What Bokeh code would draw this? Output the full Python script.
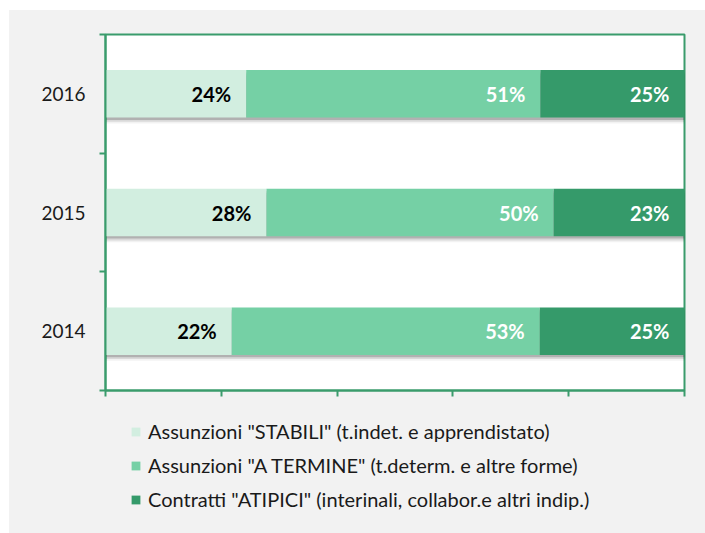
from bokeh.plotting import figure
from bokeh.layouts import column
from bokeh.models import (ColumnDataSource, Range1d, FixedTicker, Legend, LegendItem)
from bokeh.core.properties import value
from bokeh.embed import file_html
from bokeh.resources import INLINE

years = ["2014", "2015", "2016"]
stabili = [21.8, 27.8, 24.3]
a_termine = [53.2, 49.6, 50.8]
atipici = [25.0, 22.6, 24.9]
series_names = [
    'Assunzioni "STABILI" (t.indet. e apprendistato)',
    'Assunzioni "A TERMINE" (t.determ. e altre forme)',
    'Contratti "ATIPICI" (interinali, collabor.e altri indip.)',
]
x_ticks = [0, 20, 40, 60, 80, 100]

colors = ["#d2eee0", "#75d0a5", "#359a6a"]
label_colors = ["#000000", "#ffffff", "#ffffff"]
axis_green = "#3a9c6c"
bg = "#f2f2f2"
FONT = "Lato"

pos = [i + 0.5 for i in range(len(years))]
series = [stabili, a_termine, atipici]
ends1 = [a for a in stabili]
ends2 = [a + b for a, b in zip(stabili, a_termine)]
ends3 = [a + b + c for a, b, c in zip(stabili, a_termine, atipici)]
ends = [ends1, ends2, ends3]

src = ColumnDataSource(dict(y=pos, s=stabili, t=a_termine, a=atipici,
                            tot=ends3))

p = figure(width=696, height=400, output_backend="svg",
           toolbar_location=None,
           x_range=Range1d(0, 100), y_range=Range1d(0, len(years)),
           min_border_left=96, min_border_top=24, min_border_right=21,
           min_border_bottom=20)
p.background_fill_color = "white"
p.border_fill_color = bg
p.outline_line_color = axis_green
p.outline_line_width = 2
p.xgrid.grid_line_color = None
p.ygrid.grid_line_color = None
p.styles = {"background-color": bg}

# shadows
for k, (dy, al) in enumerate([(0.020, 0.18), (0.035, 0.10), (0.050, 0.05)]):
    p.hbar(y=[v - dy for v in pos], left=0, right=[t + 0.4 for t in ends3],
           height=0.4, fill_color="black", fill_alpha=al, line_color=None)

rs = p.hbar_stack(["s", "t", "a"], y="y", height=0.4, color=colors,
                  line_color=None, source=src)

for k in range(3):
    lbl = ColumnDataSource(dict(x=ends[k], y=pos,
                                txt=["%d%%" % round(v) for v in series[k]]))
    p.text(x="x", y="y", text="txt", source=lbl, x_offset=-15,
           text_align="right", text_baseline="middle",
           text_font=value(FONT), text_font_style="bold",
           text_font_size="20px", text_color=label_colors[k])

# y axis: labels at centres, minor ticks at boundaries
ya = p.yaxis[0]
ya.ticker = FixedTicker(ticks=pos, minor_ticks=list(range(len(years) + 1)))
ya.major_label_overrides = {v: yr for v, yr in zip(pos, years)}
ya.major_tick_line_color = None
ya.major_tick_out = 0
ya.major_tick_in = 0
ya.minor_tick_out = 6
ya.minor_tick_in = 0
ya.minor_tick_line_color = axis_green
ya.minor_tick_line_width = 2
ya.axis_line_color = axis_green
ya.axis_line_width = 2
ya.major_label_standoff = 14
ya.major_label_text_font = FONT
ya.major_label_text_font_size = "19px"
ya.major_label_text_color = "#1a1a1a"

# x axis: ticks only (as minor ticks, so no labels)
xa = p.xaxis[0]
xa.ticker = FixedTicker(ticks=[], minor_ticks=x_ticks)
xa.minor_tick_out = 6
xa.minor_tick_in = 0
xa.minor_tick_line_color = axis_green
xa.minor_tick_line_width = 2
xa.major_tick_line_color = None
xa.axis_line_color = axis_green
xa.axis_line_width = 2

# legend panel below the chart (same series as legend proxies, kept far out of view)
p2 = figure(width=696, height=123, output_backend="svg", toolbar_location=None,
            x_axis_type=None, y_axis_type=None,
            x_range=Range1d(1000, 1100), y_range=Range1d(1000, 1001),
            min_border_left=96, min_border_right=21, min_border_top=0,
            min_border_bottom=0)
p2.background_fill_color = bg
p2.border_fill_color = bg
p2.outline_line_color = None
p2.xgrid.grid_line_color = None
p2.ygrid.grid_line_color = None
p2.styles = {"background-color": bg}
leg_rs = p2.hbar_stack(["s", "t", "a"], y="y", height=0.4, color=colors,
                       line_color=None, source=src)

legend = Legend(items=[LegendItem(label=n, renderers=[r]) for n, r in zip(series_names, leg_rs)],
                orientation="vertical", location=(25, 22),
                glyph_width=11, glyph_height=11, label_text_font=FONT,
                label_text_font_size="20px", label_text_color="#1a1a1a",
                spacing=10, padding=0, margin=0, label_standoff=7,
                label_height=22, border_line_color=None, background_fill_alpha=0)
p2.add_layout(legend)

layout = column(p, p2, spacing=0)
layout.styles = {"margin-left": "9px", "margin-top": "10px", "background-color": bg}

open("out.html", "w").write(file_html(layout, INLINE))
